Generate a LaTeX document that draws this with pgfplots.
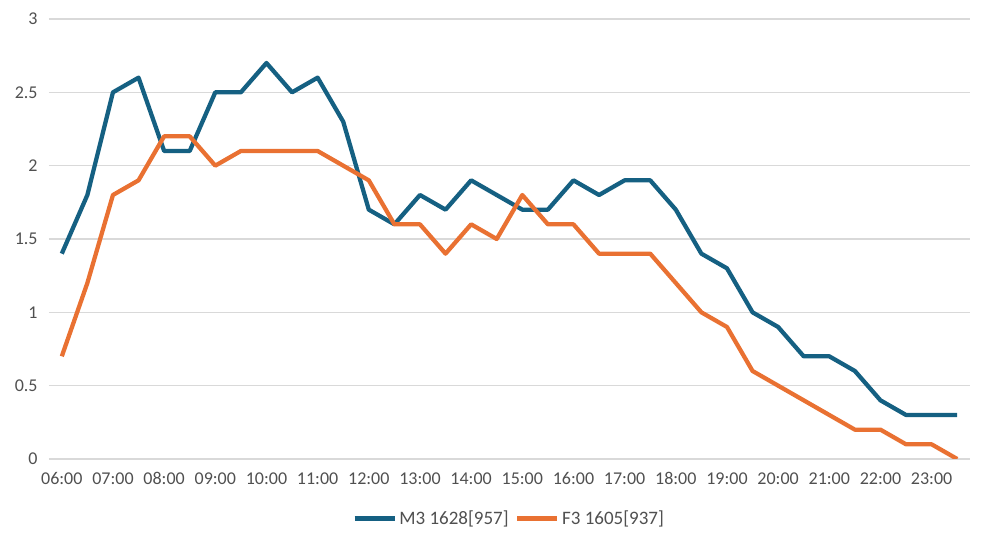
\documentclass[border=0pt]{standalone}
\usepackage{pgfplots}
\pgfplotsset{compat=1.18}
\usepackage{fontspec}
\setmainfont{Carlito}
\definecolor{mblue}{HTML}{156082}
\definecolor{morange}{HTML}{E97132}
\definecolor{gridc}{HTML}{D9D9D9}
\definecolor{txt}{HTML}{505050}
\begin{document}
\begin{tikzpicture}
\begin{axis}[
  scale only axis,
  width=690.75pt, height=330pt,
  xmin=-0.5, xmax=35.5,
  ymin=0, ymax=3,
  axis line style={draw=none},
  ytick={0,0.5,...,3},
  xtick={0,2,...,34},
  xticklabels={06:00,07:00,08:00,09:00,10:00,11:00,12:00,13:00,14:00,15:00,16:00,17:00,18:00,19:00,20:00,21:00,22:00,23:00},
  ymajorgrids, xmajorgrids=false,
  major grid style={gridc, line width=0.9pt},
  major tick length=0pt,
  tick label style={font=\fontsize{13.5}{15}\selectfont, text=txt},
  /pgf/number format/assume math mode=true,
  yticklabel style={xshift=-5pt},
  xticklabel style={anchor=north, text height=9.5pt, text depth=0pt, yshift=-6pt},
  legend style={draw=none, at={(0.5,-0.135)}, anchor=center, legend columns=2,
    font=\fontsize{14.25}{16}\selectfont, text=txt,
    /tikz/every even column/.append style={column sep=3pt}},
  legend image code/.code={\draw[#1, line width=3.2pt] (0pt,0pt) -- (30pt,0pt);},
]
\addplot[mblue, line width=3.2pt, line join=round] coordinates {
(0,1.4)(1,1.8)(2,2.5)(3,2.6)(4,2.1)(5,2.1)(6,2.5)(7,2.5)(8,2.7)(9,2.5)(10,2.6)(11,2.3)
(12,1.7)(13,1.6)(14,1.8)(15,1.7)(16,1.9)(17,1.8)(18,1.7)(19,1.7)(20,1.9)(21,1.8)(22,1.9)(23,1.9)
(24,1.7)(25,1.4)(26,1.3)(27,1.0)(28,0.9)(29,0.7)(30,0.7)(31,0.6)(32,0.4)(33,0.3)(34,0.3)(35,0.3)};
\addlegendentry{M3 1628[957]}
\addplot[morange, line width=3.2pt, line join=round] coordinates {
(0,0.7)(1,1.2)(2,1.8)(3,1.9)(4,2.2)(5,2.2)(6,2.0)(7,2.1)(8,2.1)(9,2.1)(10,2.1)(11,2.0)
(12,1.9)(13,1.6)(14,1.6)(15,1.4)(16,1.6)(17,1.5)(18,1.8)(19,1.6)(20,1.6)(21,1.4)(22,1.4)(23,1.4)
(24,1.2)(25,1.0)(26,0.9)(27,0.6)(28,0.5)(29,0.4)(30,0.3)(31,0.2)(32,0.2)(33,0.1)(34,0.1)(35,0.0)};
\addlegendentry{F3 1605[937]}
\end{axis}
\path[use as bounding box] ([xshift=-36.75pt,yshift=-66pt]current axis.south west) rectangle ([xshift=15pt,yshift=14.25pt]current axis.north east);
\end{tikzpicture}
\end{document}
